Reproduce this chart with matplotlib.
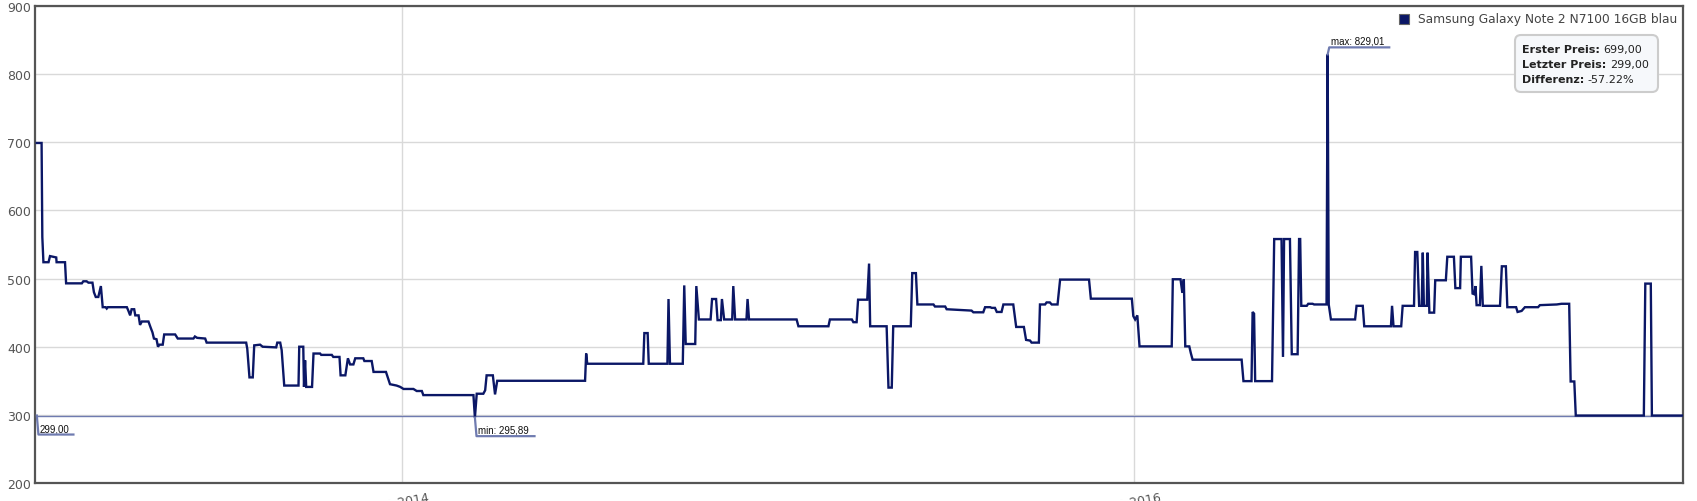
import matplotlib
matplotlib.use("Agg")
import matplotlib.pyplot as plt
from matplotlib.patches import FancyBboxPatch, Rectangle
from matplotlib.transforms import IdentityTransform
from matplotlib.lines import Line2D

# ---------------- data ----------------
series_name = "Samsung Galaxy Note 2 N7100 16GB blau"

years = [
    2013.002, 2013.015, 2013.017, 2013.020, 2013.034, 2013.038, 2013.055, 2013.056, 2013.079, 2013.082,
    2013.125, 2013.129, 2013.138, 2013.143, 2013.154, 2013.158, 2013.163, 2013.170, 2013.177, 2013.182,
    2013.190, 2013.193, 2013.196, 2013.248, 2013.252, 2013.257, 2013.261, 2013.268, 2013.271, 2013.280,
    2013.284, 2013.289, 2013.307, 2013.313, 2013.318, 2013.322, 2013.329, 2013.333, 2013.337, 2013.346,
    2013.350, 2013.380, 2013.387, 2013.430, 2013.434, 2013.440, 2013.462, 2013.466, 2013.574, 2013.577,
    2013.583, 2013.592, 2013.596, 2013.612, 2013.619, 2013.656, 2013.659, 2013.667, 2013.671, 2013.678,
    2013.717, 2013.719, 2013.730, 2013.732, 2013.735, 2013.738, 2013.754, 2013.758, 2013.776, 2013.779,
    2013.808, 2013.812, 2013.829, 2013.832, 2013.845, 2013.852, 2013.858, 2013.867, 2013.872, 2013.894,
    2013.897, 2013.917, 2013.922, 2013.956, 2013.961, 2013.967, 2013.985, 2013.995, 2014.004, 2014.031,
    2014.040, 2014.054, 2014.058, 2014.195, 2014.199, 2014.204, 2014.222, 2014.227, 2014.231, 2014.248,
    2014.254, 2014.260, 2014.500, 2014.503, 2014.506, 2014.659, 2014.662, 2014.671, 2014.674, 2014.725,
    2014.728, 2014.732, 2014.767, 2014.771, 2014.775, 2014.801, 2014.804, 2014.811, 2014.843, 2014.847,
    2014.858, 2014.862, 2014.871, 2014.874, 2014.880, 2014.902, 2014.905, 2014.910, 2014.941, 2014.944,
    2014.948, 2015.078, 2015.083, 2015.165, 2015.169, 2015.229, 2015.233, 2015.242, 2015.246, 2015.271,
    2015.276, 2015.279, 2015.324, 2015.329, 2015.338, 2015.342, 2015.390, 2015.394, 2015.404, 2015.408,
    2015.452, 2015.456, 2015.484, 2015.488, 2015.556, 2015.561, 2015.588, 2015.593, 2015.607, 2015.611,
    2015.620, 2015.625, 2015.638, 2015.643, 2015.670, 2015.678, 2015.699, 2015.705, 2015.716, 2015.720,
    2015.740, 2015.743, 2015.757, 2015.761, 2015.770, 2015.775, 2015.791, 2015.798, 2015.877, 2015.882,
    2015.994, 2015.998, 2016.003, 2016.009, 2016.015, 2016.103, 2016.106, 2016.127, 2016.132, 2016.136,
    2016.140, 2016.151, 2016.155, 2016.160, 2016.294, 2016.299, 2016.321, 2016.324, 2016.328, 2016.331,
    2016.377, 2016.383, 2016.403, 2016.407, 2016.410, 2016.426, 2016.431, 2016.447, 2016.451, 2016.454,
    2016.457, 2016.472, 2016.476, 2016.488, 2016.492, 2016.526, 2016.529, 2016.532, 2016.538, 2016.604,
    2016.608, 2016.625, 2016.629, 2016.702, 2016.705, 2016.709, 2016.730, 2016.734, 2016.765, 2016.768,
    2016.774, 2016.779, 2016.786, 2016.789, 2016.792, 2016.800, 2016.802, 2016.807, 2016.820, 2016.823,
    2016.852, 2016.856, 2016.874, 2016.878, 2016.891, 2016.893, 2016.921, 2016.925, 2016.930, 2016.933,
    2016.936, 2016.945, 2016.949, 2016.953, 2017.000, 2017.005, 2017.016, 2017.020, 2017.044, 2017.048,
    2017.055, 2017.059, 2017.068, 2017.104, 2017.109, 2017.155, 2017.168, 2017.189, 2017.193, 2017.203,
    2017.207, 2017.393, 2017.397, 2017.412, 2017.415, 2017.501,
]

prices = [
    699, 699, 561, 524, 524, 533, 531, 524, 524, 493,
    493, 496, 496, 494, 494, 480, 473, 473, 489, 458,
    458, 456, 458, 458, 453, 446, 455, 455, 446, 446,
    432, 437, 437, 428, 421, 412, 411, 400, 403, 403,
    418, 418, 412, 412, 415, 413, 412, 406, 406, 397,
    355, 355, 402, 403, 400, 399, 406, 406, 395, 343,
    343, 400, 400, 341, 380, 341, 341, 390, 390, 388,
    388, 385, 385, 358, 358, 383, 374, 374, 383, 383,
    379, 379, 363, 363, 355, 345, 343, 341, 338, 338,
    335, 335, 329, 329, 295.89, 331, 331, 336, 358, 358,
    330, 350, 350, 390, 375, 375, 420, 420, 375, 375,
    470, 375, 375, 490, 404, 404, 489, 440, 440, 470,
    470, 439, 439, 470, 440, 440, 489, 440, 440, 470,
    440, 440, 430, 430, 440, 440, 436, 436, 469, 469,
    522, 430, 430, 340, 340, 430, 430, 508, 508, 462,
    462, 459, 459, 455, 453, 450.5, 450.5, 458, 458, 457,
    457, 451, 451, 462, 462, 429, 429, 410, 409, 406,
    406, 462, 462, 465, 465, 462, 462, 498.5, 498.5, 470.5,
    470.5, 445, 440, 446, 400.5, 400.5, 499, 499, 479, 499,
    400.5, 400.5, 391, 381, 381, 349.5, 349.5, 451, 448.5, 349.5,
    349.5, 558, 558, 385, 558, 558, 389, 389, 558, 558,
    460, 460, 463, 463, 462, 462, 829.01, 462, 440, 440,
    460, 460, 430, 430, 460, 430, 430, 460, 460, 539,
    539, 460, 460, 538, 460, 460, 538, 450, 450, 497.5,
    497.5, 532, 532, 486, 486, 532, 532, 478, 477, 489,
    461, 461, 518.6, 460, 460, 518, 518, 458, 458, 451,
    452, 452.5, 458, 458, 461, 462, 463, 463, 349, 349,
    299, 299, 492.6, 492.6, 299, 299,
]

y_ticks = [200, 300, 400, 500, 600, 700, 800, 900]
x_ticks = [2014, 2016]
x_tick_labels = ["Jan 2014", "Jan 2016"]

first_price = prices[0]
last_price = prices[-1]
min_price = min(prices)
max_price = max(prices)
min_year = years[prices.index(min_price)]
max_year = years[prices.index(max_price)]
diff_pct = (last_price - first_price) / first_price * 100


def de(v):
    return f"{v:.2f}".replace(".", ",")


# ---------------- style ----------------
W, H = 1697, 502
line_color = "#0b1766"
ref_color = "#6f7bb0"
grid_color = "#d9d9d9"
spine_color = "#555555"
text_color = "#555555"

fig = plt.figure(figsize=(W / 100, H / 100), dpi=100)
ax = fig.add_axes([35 / W, 1 - 484 / H, (1683 - 35) / W, (484 - 7) / H])

ax.set_xlim(2012.997, 2017.500)
ax.set_ylim(200, 900)

ax.plot(years, prices, color=line_color, lw=1.7, solid_joinstyle="miter", zorder=3)
ax.axhline(last_price, color=ref_color, lw=1.0, zorder=2)

ax.set_yticks(y_ticks)
ax.set_xticks(x_ticks)
ax.set_xticklabels(x_tick_labels, rotation=10, ha="center")
ax.tick_params(axis="both", length=0, colors=text_color, labelsize=9)
ax.tick_params(axis="y", pad=3)
ax.tick_params(axis="x", pad=5.5)
ax.grid(True, color=grid_color, lw=1.0, zorder=0)
for s in ax.spines.values():
    s.set_color(spine_color)
    s.set_linewidth(1.6)


# ---------------- annotations (pixel offsets from data points) ----------------
def to_px(x, y):
    return ax.transData.transform((x, y))


def bracket(x, y, dy, length, label):
    px, py = to_px(x, y)
    xs = [px, px + 1.6, px + 1.6 + length]
    ys = [py, py + dy, py + dy]
    fig.add_artist(Line2D(xs, ys, transform=IdentityTransform(), color=ref_color, lw=1.6, zorder=5))
    fig.text(px + 3, py + dy + 1.5, label, transform=IdentityTransform(), fontsize=7,
             family="Liberation Sans", color="#111111", ha="left", va="bottom")


bracket(2013.002, last_price, -19, 35, de(last_price))
bracket(min_year, min_price, -18.5, 58, "min: " + de(min_price))
bracket(max_year, max_price, 7, 60, "max: " + de(max_price))

renderer = fig.canvas.get_renderer()

# ---------------- legend ----------------
lt = fig.text(1677, H - 20, series_name, transform=IdentityTransform(), fontsize=8.8,
              color="#444444", ha="right", va="center")
lbb = lt.get_window_extent(renderer=renderer)
fig.add_artist(Rectangle((lbb.x0 - 19, H - 25), 10, 10, transform=IdentityTransform(),
                         fc=line_color, ec="#666666", lw=0.8))

# ---------------- info box ----------------
box = FancyBboxPatch((1515, H - 93), 143, 57, boxstyle="round,pad=0,rounding_size=6",
                     transform=IdentityTransform(), fc="#f6f8fb", ec="#cccccc", lw=1.5, zorder=6)
fig.add_artist(box)
rows = [("Erster Preis:", de(first_price)),
        ("Letzter Preis:", de(last_price)),
        ("Differenz:", f"{diff_pct:.2f}%")]
for i, (lab, val) in enumerate(rows):
    yy = H - (50 + i * 15)
    t = fig.text(1522, yy, lab, transform=IdentityTransform(), fontsize=8, weight="bold",
                 color="#222222", ha="left", va="center", zorder=7)
    bb = t.get_window_extent(renderer=renderer)
    fig.text(bb.x1 + 3.5, yy, val, transform=IdentityTransform(), fontsize=8,
             color="#222222", ha="left", va="center", zorder=7)

fig.savefig("out.png", dpi=100)
